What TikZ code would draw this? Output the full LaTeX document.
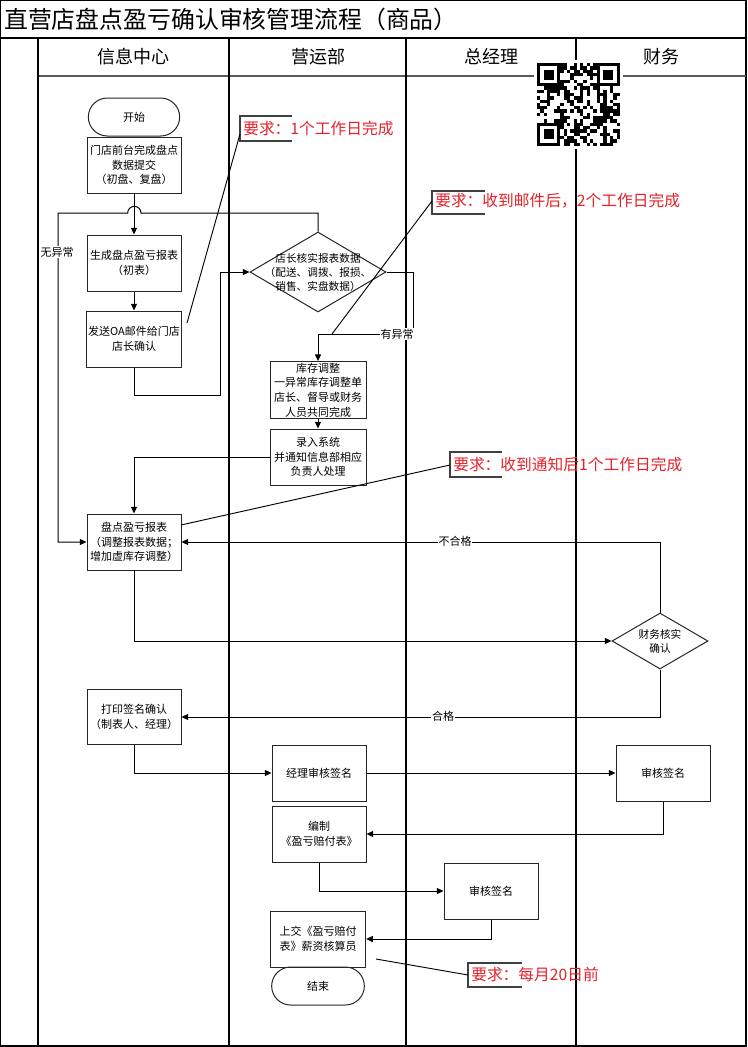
\documentclass[tikz,border=0pt]{standalone}
\usepackage{fontspec}
\setmainfont{Noto Sans CJK SC}
\usetikzlibrary{shapes.geometric,shapes.misc,arrows.meta}
\definecolor{annred}{RGB}{232,32,40}
\tikzset{
  box/.style={draw=black!85, line width=0.75pt, minimum width=70.5pt, minimum height=42pt, inner sep=1pt, align=center, font=\fontsize{8.25}{11}\selectfont},
  term/.style={rounded rectangle, draw=black!85, line width=0.75pt, minimum width=70.5pt, minimum height=28.5pt, inner sep=1pt, font=\fontsize{8.25}{11}\selectfont},
  dia/.style={diamond, draw=black!85, line width=0.75pt, inner sep=0pt},
  diatext/.style={align=center, font=\fontsize{8}{10.5}\selectfont},
  flow/.style={line width=0.75pt, -{Triangle[length=5pt,width=4.5pt]}},
  plain/.style={line width=0.7pt},
  lbl/.style={fill=white, inner sep=0.6pt, font=\fontsize{8.25}{10}\selectfont},
  ann/.style={text=annred, font=\fontsize{11.8}{14}\selectfont, anchor=west, inner sep=0pt},
  bracket/.style={line width=0.8pt, draw=black!75},
  lane/.style={line width=1.1pt},
  head/.style={font=\fontsize{13.5}{16}\selectfont, inner sep=0pt},
}
\begin{document}
\begin{tikzpicture}[x=0.75pt, y=-0.75pt]
\useasboundingbox (0,0) rectangle (747,1047);
% frame and lanes
\draw[lane] (0.6,0.6) rectangle (746,1046);
\draw[line width=1.8pt] (0,38) -- (747,38);
\draw[line width=1.2pt, black!65] (38,76) -- (746,76);
\draw[lane] (38,38) -- (38,1046);
\draw[lane] (229,38) -- (229,1046);
\draw[lane] (406,38) -- (406,1046);
\draw[lane] (576,38) -- (576,1046);
% title and headers
\node[anchor=west, inner sep=0pt, font=\fontsize{17.9}{20}\selectfont] (title) at (4,19) {直营店盘点盈亏确认审核管理流程（商品）};
\node[head] (h1) at (133,57) {信息中心};
\node[head] (h2) at (318,57) {营运部};
\node[head] (h3) at (491,57) {总经理};
\node[head] (h4) at (661,57) {财务};
% QR code
\begin{scope}[shift={(537,63)}]
  \fill[white] (-3,-3) rectangle (86,86);
  \pgfmathsetseed{4242}
  \foreach \i in {0,...,24}{
    \foreach \j in {0,...,24}{
      \pgfmathrandominteger{\r}{0}{1}
      \ifnum\r=1 \fill (\i*3.32,\j*3.32) rectangle ++(3.32,3.32); \fi
    }
  }
  \foreach \cx/\cy in {0/0, 18/0, 0/18}{
    \fill[white] (\cx*3.32-0.01,\cy*3.32-0.01) rectangle ++(7*3.32+0.02,7*3.32+0.02);
    \fill (\cx*3.32,\cy*3.32) rectangle ++(7*3.32,7*3.32);
    \fill[white] (\cx*3.32+3.32,\cy*3.32+3.32) rectangle ++(5*3.32,5*3.32);
    \fill (\cx*3.32+6.64,\cy*3.32+6.64) rectangle ++(3*3.32,3*3.32);
  }
\end{scope}
% nodes
\node[term] (start) at (134,117) {开始};
\node[box] (b1) at (134,165) {门店前台完成盘点\\数据提交\\（初盘、复盘）};
\node[box] (b2) at (134,263) {生成盘点盈亏报表\\（初表）};
\node[box] (b3) at (134,339) {发送OA邮件给门店\\店长确认};
\node[dia, minimum width=102pt, minimum height=60pt,
      label={[diatext]center:店长核实报表数据\\（配送、调拨、报损、\\销售、实盘数据）}] (d1) at (318,272) {};
\node[box, minimum width=72pt] (b4) at (318,390) {库存调整\\一异常库存调整单\\店长、督导或财务\\人员共同完成};
\node[box, minimum width=72pt] (b5) at (318,457) {录入系统\\并通知信息部相应\\负责人处理};
\node[box] (b6) at (134,542) {盘点盈亏报表\\（调整报表数据；\\增加虚库存调整）};
\node[dia, minimum width=72pt, minimum height=42pt,
      label={[diatext]center:财务核实\\确认}] (d2) at (660,641) {};
\node[box, minimum height=41pt] (b7) at (134,717) {打印签名确认\\（制表人、经理）};
\node[box] (b8) at (319,773) {经理审核签名};
\node[box] (b9) at (663,773) {审核签名};
\node[box] (b10) at (319,834) {编制\\《盈亏赔付表》};
\node[box] (b11) at (491,891) {审核签名};
\node[box, minimum width=71.5pt] (b12) at (318,939) {上交《盈亏赔付\\表》薪资核算员};
\node[term, minimum width=71.5pt] (end) at (318,986) {结束};
% connectors
\draw[flow] (b1) -- (b2);
\draw[flow] (b2) -- (b3);
\draw[flow] (b3.south) |- (220,395) |- (d1.west);
\draw[flow] (d1.north) -- (318,213) -- (141,213) arc[start angle=0, end angle=180, radius=5pt] -- (58,213) |- (b6.west);
\node[lbl] (l1) at (57,252) {无异常};
\draw[flow] (d1.east) -- (413,272) -- (413,334) -| (b4.north);
\node[lbl] (l2) at (397,334) {有异常};
\draw[flow] (b4) -- (b5);
\draw[flow] (b5.west) -| (b6.north);
\draw[flow] (b6.south) |- (d2.west);
\draw[flow] (d2.north) |- (b6.east);
\node[lbl] (l3) at (455,541) {不合格};
\draw[flow] (d2.south) |- (b7.east);
\node[lbl] (l4) at (443,716) {合格};
\draw[flow] (b7.south) |- (b8.west);
\draw[flow] (b8) -- (b9);
\draw[flow] (b9.south) |- (b10.east);
\draw[flow] (b10.south) |- (b11.west);
\draw[flow] (b11.south) |- (b12.east);
% annotations
\draw[bracket] (292,116) -- (240,116) -- (240,141) -- (292,141);
\node[ann] (a1) at (243,128) {要求：1个工作日完成};
\coordinate (a1b) at (240,134);
\coordinate (p1) at (187,323);
\draw[plain] (a1b) -- (p1);

\draw[bracket] (485,191) -- (432,191) -- (432,214) -- (485,214);
\node[ann] (a2) at (435,201) {要求：收到邮件后，2个工作日完成};
\coordinate (a2b) at (432,201);
\coordinate (p2) at (332,334);
\draw[plain] (a2b) -- (p2);

\draw[bracket] (502,452) -- (450,452) -- (450,477) -- (502,477);
\node[ann] (a3) at (453,464) {要求：收到通知后1个工作日完成};
\coordinate (a3b) at (450,465);
\coordinate (p3) at (181,525);
\draw[plain] (a3b) -- (p3);

\draw[bracket] (522,963) -- (468,963) -- (468,987) -- (522,987);
\node[ann] (a4) at (471,974) {要求：每月20日前};
\coordinate (a4b) at (468,975);
\coordinate (p4) at (376,959);
\draw[plain] (a4b) -- (p4);
\end{tikzpicture}
\end{document}
